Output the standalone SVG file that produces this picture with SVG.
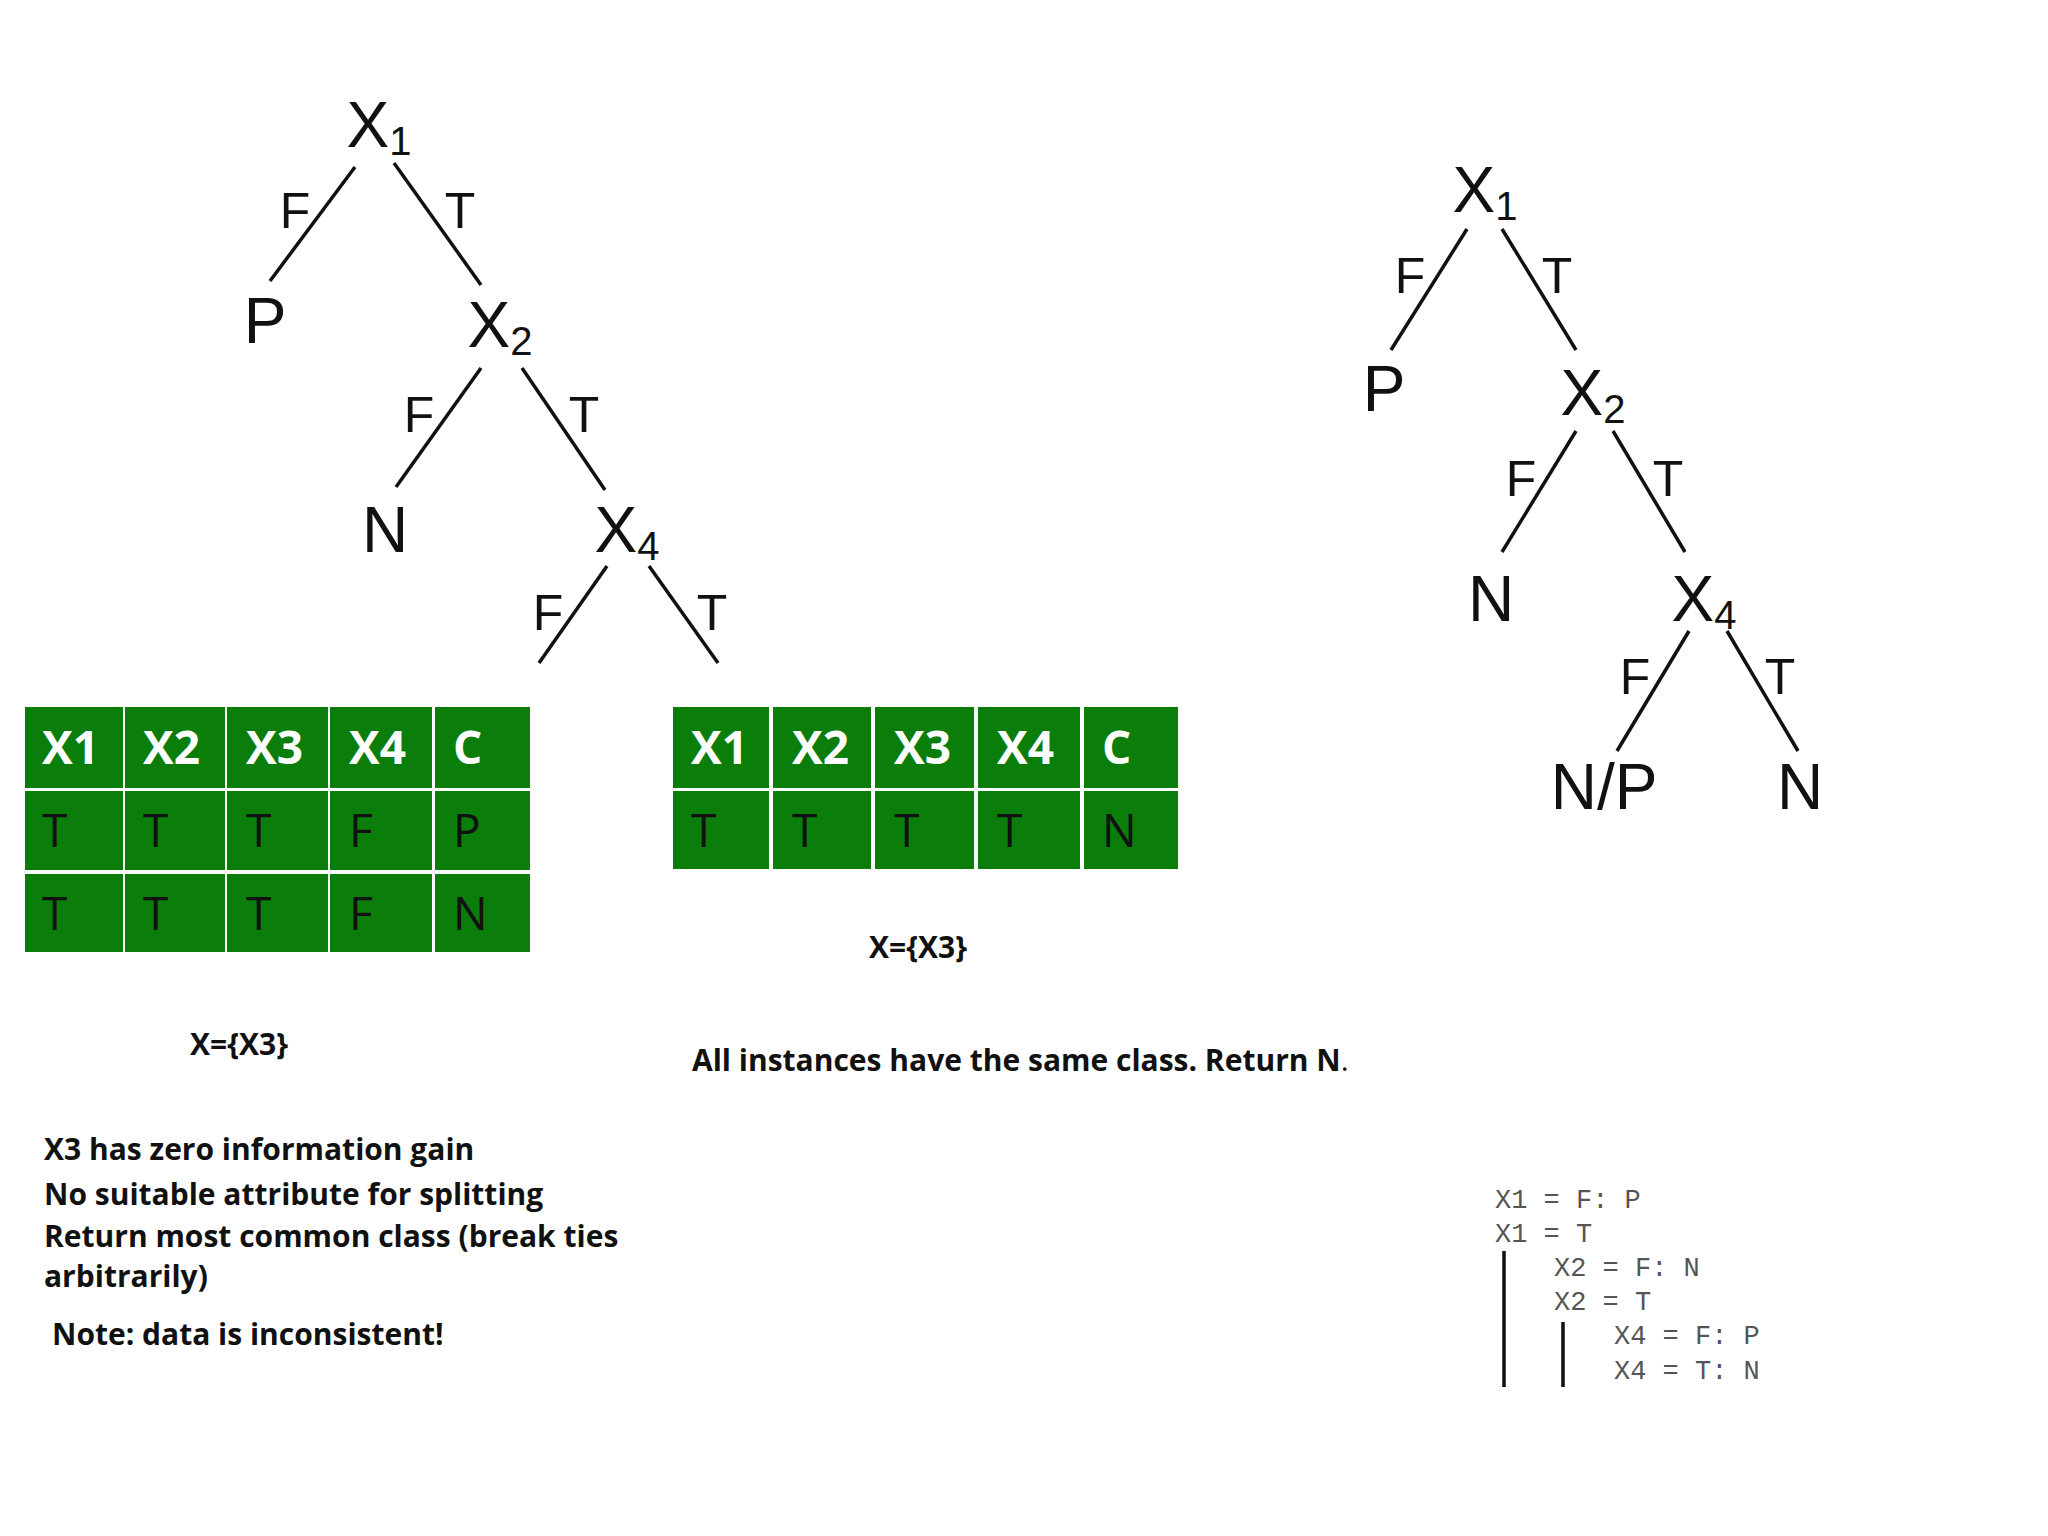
<svg xmlns="http://www.w3.org/2000/svg" width="2048" height="1536" viewBox="0 0 2048 1536">
<style>
.t{font-family:"Liberation Sans",Arial,sans-serif;font-size:64px;fill:#111;text-anchor:middle}
.s{font-size:40px}
.l{font-family:"Liberation Sans",Arial,sans-serif;font-size:50px;fill:#111;text-anchor:middle}
.e{stroke:#111;stroke-width:3.5;fill:none}
.c{fill:#0a7d0a}
.h{font-family:"Open Sans",sans-serif;font-weight:bold;font-size:46px;fill:#fff}
.b{font-family:"Open Sans",sans-serif;font-size:46px;fill:#111}
.p{font-family:"Open Sans",sans-serif;font-weight:bold;font-size:30px;fill:#111}
.m{font-family:"Liberation Mono",monospace;font-size:27px;fill:#555;white-space:pre}
</style>
<rect width="2048" height="1536" fill="#fff"/>
<g id="connectors">
<path class="e" d="M355,167L270,281M394,163L481,285M481,368L396,487M522,368L605,490M607,566L539,663M649,566L718,663"/>
<path class="e" d="M1467,229L1391,350M1502,229L1576,350M1576,431L1502,552M1613,431L1685,552M1689,631L1617,751M1727,631L1798,751"/>
<path class="e" stroke-width="2.5" d="M1504,1251V1387M1563,1322V1387"/>
</g>
<g id="tree1">
<text class="t" x="379" y="147">X<tspan class="s" dy="8">1</tspan></text>
<text class="l" x="295" y="228">F</text><text class="l" x="460" y="228">T</text>
<text class="t" x="265" y="343">P</text>
<text class="t" x="500" y="347">X<tspan class="s" dy="8">2</tspan></text>
<text class="l" x="419" y="432">F</text><text class="l" x="584" y="432">T</text>
<text class="t" x="385" y="552">N</text>
<text class="t" x="627" y="552">X<tspan class="s" dy="8">4</tspan></text>
<text class="l" x="548" y="630">F</text><text class="l" x="712" y="630">T</text>
</g>
<g id="table1">
<rect class="c" x="25" y="707" width="98" height="81"/><rect class="c" x="125" y="707" width="100" height="81"/><rect class="c" x="227" y="707" width="101" height="81"/><rect class="c" x="330" y="707" width="102" height="81"/><rect class="c" x="435" y="707" width="95" height="81"/>
<rect class="c" x="25" y="791" width="98" height="79"/><rect class="c" x="125" y="791" width="100" height="79"/><rect class="c" x="227" y="791" width="101" height="79"/><rect class="c" x="330" y="791" width="102" height="79"/><rect class="c" x="435" y="791" width="95" height="79"/>
<rect class="c" x="25" y="874" width="98" height="78"/><rect class="c" x="125" y="874" width="100" height="78"/><rect class="c" x="227" y="874" width="101" height="78"/><rect class="c" x="330" y="874" width="102" height="78"/><rect class="c" x="435" y="874" width="95" height="78"/>
<text class="h" y="764"><tspan x="42">X1</tspan><tspan x="143">X2</tspan><tspan x="246">X3</tspan><tspan x="349">X4</tspan><tspan x="453">C</tspan></text>
<text class="b" y="847"><tspan x="42">T</tspan><tspan x="143">T</tspan><tspan x="246">T</tspan><tspan x="349">F</tspan><tspan x="453">P</tspan></text>
<text class="b" y="930"><tspan x="42">T</tspan><tspan x="143">T</tspan><tspan x="246">T</tspan><tspan x="349">F</tspan><tspan x="453">N</tspan></text>
</g>
<g id="table2">
<rect class="c" x="673" y="707" width="96" height="81"/><rect class="c" x="773" y="707" width="98" height="81"/><rect class="c" x="875" y="707" width="99" height="81"/><rect class="c" x="978" y="707" width="102" height="81"/><rect class="c" x="1084" y="707" width="94" height="81"/>
<rect class="c" x="673" y="791" width="96" height="78"/><rect class="c" x="773" y="791" width="98" height="78"/><rect class="c" x="875" y="791" width="99" height="78"/><rect class="c" x="978" y="791" width="102" height="78"/><rect class="c" x="1084" y="791" width="94" height="78"/>
<text class="h" y="764"><tspan x="691">X1</tspan><tspan x="792">X2</tspan><tspan x="894">X3</tspan><tspan x="997">X4</tspan><tspan x="1102">C</tspan></text>
<text class="b" y="847"><tspan x="691">T</tspan><tspan x="792">T</tspan><tspan x="894">T</tspan><tspan x="997">T</tspan><tspan x="1102">N</tspan></text>
</g>
<g id="texts">
<text class="p" x="918" y="958" text-anchor="middle">X={X3}</text>
<text class="p" x="239" y="1055" text-anchor="middle">X={X3}</text>
<text class="p" x="692" y="1071">All instances have the same class. Return N<tspan font-weight="normal">.</tspan></text>
<text class="p" x="44" y="1160">X3  has zero information gain</text>
<text class="p" x="44" y="1205">No suitable attribute for splitting</text>
<text class="p" x="44" y="1247">Return most common class (break ties</text>
<text class="p" x="44" y="1287">arbitrarily)</text>
<text class="p" x="52" y="1345">Note: data is inconsistent!</text>
</g>
<g id="tree2">
<text class="t" x="1485" y="212">X<tspan class="s" dy="8">1</tspan></text>
<text class="l" x="1410" y="293">F</text><text class="l" x="1557" y="293">T</text>
<text class="t" x="1384" y="411">P</text>
<text class="t" x="1593" y="415">X<tspan class="s" dy="8">2</tspan></text>
<text class="l" x="1521" y="496">F</text><text class="l" x="1668" y="496">T</text>
<text class="t" x="1491" y="621">N</text>
<text class="t" x="1704" y="621">X<tspan class="s" dy="8">4</tspan></text>
<text class="l" x="1635" y="694">F</text><text class="l" x="1780" y="694">T</text>
<text class="t" x="1604" y="809">N/P</text>
<text class="t" x="1800" y="809">N</text>
</g>
<g id="code">
<text class="m" x="1495" y="1208">X1 = F: P</text>
<text class="m" x="1495" y="1242">X1 = T</text>
<text class="m" x="1554" y="1276">X2 = F: N</text>
<text class="m" x="1554" y="1310">X2 = T</text>
<text class="m" x="1614" y="1344">X4 = F: P</text>
<text class="m" x="1614" y="1379">X4 = T: N</text>
</g>
</svg>
